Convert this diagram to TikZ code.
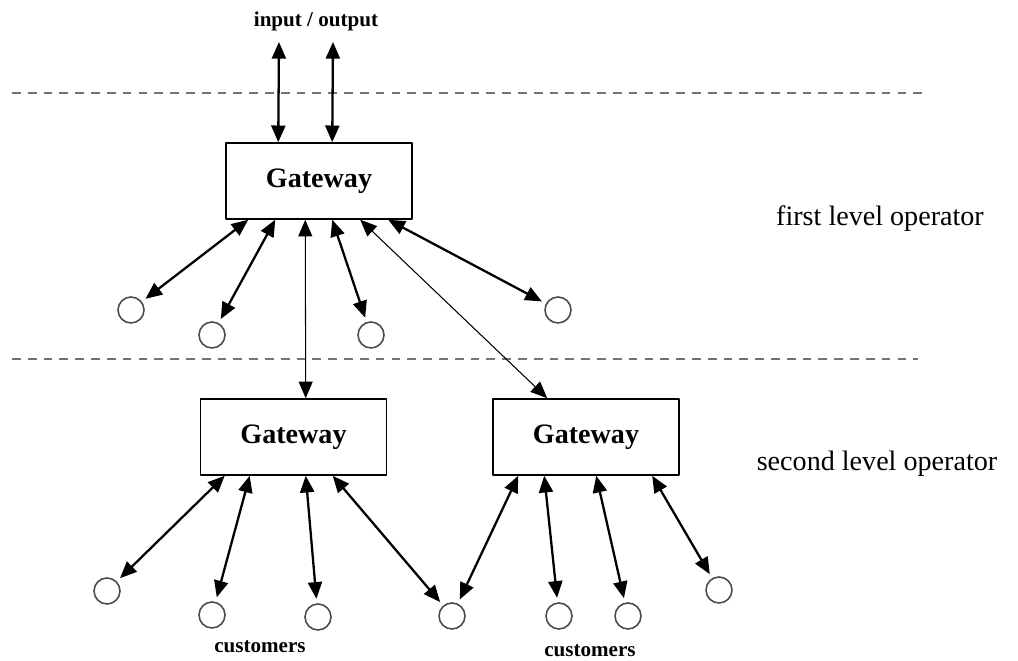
\documentclass[tikz,border=0pt]{standalone}
\usepackage{fontspec}
\setmainfont{Liberation Serif}
\usetikzlibrary{arrows.meta,calc}
\tikzset{
	gate/.style={draw,line width=0.9pt,minimum width=3.72cm,minimum height=1.52cm,inner sep=0pt,font=\fontsize{16}{19}\selectfont\bfseries},
	cust/.style={circle,draw=black!70,line width=0.9pt,minimum size=0.52cm,inner sep=0pt,outer sep=3pt},
	link/.style={{Triangle[length=9.5pt,width=8pt]}-{Triangle[length=9.5pt,width=8pt]},line width=1.3pt},
	thinlink/.style={link,line width=0.6pt},
	lvl/.style={draw=black!55,dash pattern=on 5pt off 4pt,line width=0.7pt},
	tag/.style={font=\fontsize{12}{14}\selectfont\bfseries},
	lbl/.style={font=\fontsize{16}{19}\selectfont}
}
\begin{document}
\begin{tikzpicture}[x=0.02cm,y=-0.02cm,line join=round]
				\useasboundingbox (0,0) rectangle (1018,661);
				\draw[lvl] (12,93) -- (922,93);
				\draw[lvl] (12,359) -- (918,359);
				
				\node[tag] (io) at (316,21) {input / output};
				\node[lbl] (first) at (880,219) {first level operator};
				\node[lbl] (second) at (877,464) {second level operator};
				\node[tag] (custl) at (260,647) {customers};
				\node[tag] (custr) at (590,651) {customers};
				
				\node[gate] (gw) at (319,181) {Gateway};
				\node[gate] (gl) at (293.5,437) {Gateway};
				\node[gate] (gr) at (586,437) {Gateway};
				
				\coordinate (in) at (279,42);
				\coordinate (out) at (333,42);
				
				\node[cust] (c1) at (131,310) {};
				\node[cust] (c2) at (212,335) {};
				\node[cust] (c3) at (371,335) {};
				\node[cust] (c4) at (558,310) {};
				\node[cust] (d1) at (107,591) {};
				\node[cust] (d2) at (212,615) {};
				\node[cust] (d3) at (318,617) {};
				\node[cust] (d4) at (452,616) {};
				\node[cust] (e2) at (559,616) {};
				\node[cust] (e3) at (628,616) {};
				\node[cust] (e4) at (719,590) {};
				
				\draw[link] (in) -- ($(gw.north west)+(53,0)$);
				\draw[link] (out) -- ($(gw.north west)+(107,0)$);
				
				\draw[link] ($(gw.south west)+(23,0)$) -- (c1);
				\draw[link] ($(gw.south west)+(50,0)$) -- (c2);
				\draw[link] ($(gw.south west)+(107,0)$) -- (c3);
				\draw[link] ($(gw.south west)+(163,0)$) -- (c4);
				\draw[thinlink] ($(gw.south west)+(80,0)$) -- ($(gl.north west)+(106,0)$);
				\draw[thinlink] ($(gw.south west)+(135,0)$) -- ($(gr.north west)+(55,0)$);
				
				\draw[link] ($(gl.south west)+(25,0)$) -- (d1);
				\draw[link] ($(gl.south west)+(50,0)$) -- (d2);
				\draw[link] ($(gl.south west)+(106,0)$) -- (d3);
				\draw[link] ($(gl.south west)+(133,0)$) -- (d4);
				
				\draw[link] ($(gr.south west)+(26,0)$) -- (d4);
				\draw[link] ($(gr.south west)+(52,0)$) -- (e2);
				\draw[link] ($(gr.south west)+(104,0)$) -- (e3);
				\draw[link] ($(gr.south west)+(160,0)$) -- (e4);
\end{tikzpicture}
\end{document}
